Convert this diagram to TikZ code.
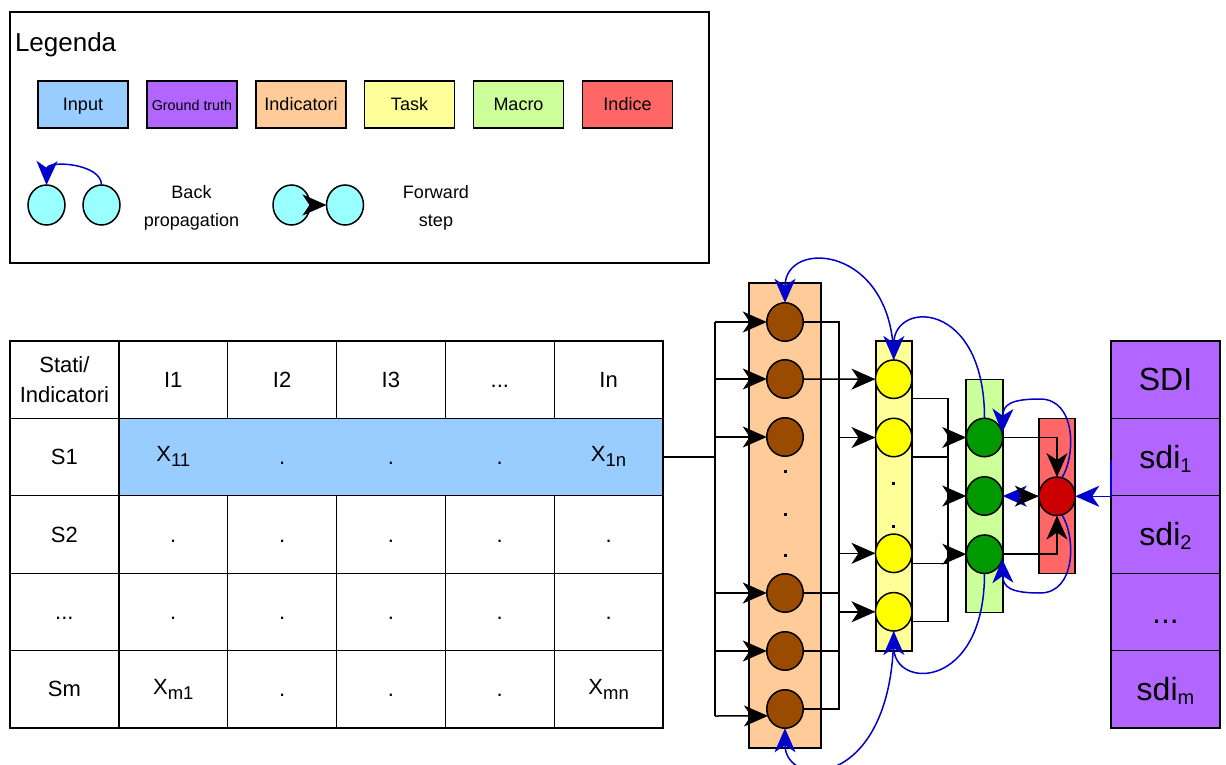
\documentclass[tikz,border=0pt]{standalone}
\usepackage{fontspec}
\setmainfont{Liberation Sans}
\usetikzlibrary{arrows.meta,shapes.geometric}
\definecolor{inputblue}{HTML}{99CCFF}
\definecolor{gtpurple}{HTML}{B266FF}
\definecolor{indorange}{HTML}{FFCC99}
\definecolor{taskyellow}{HTML}{FFFF99}
\definecolor{macrogreen}{HTML}{CCFF99}
\definecolor{indicered}{HTML}{FF6666}
\definecolor{cyanc}{HTML}{99FFFF}
\definecolor{brownc}{HTML}{994C00}
\definecolor{yellowc}{HTML}{FFFF00}
\definecolor{greenc}{HTML}{009900}
\definecolor{redc}{HTML}{CC0000}
\definecolor{bpblue}{HTML}{0000CC}
\newcommand\tsub[1]{\raisebox{-5pt}{\fontsize{18.5}{18.5}\selectfont #1}}
\newcommand\ssub[1]{\raisebox{-4pt}{\fontsize{20}{20}\selectfont #1}}
\tikzset{
  conn/.style={draw=black, line width=1.5pt},
  fwd/.style={conn, -{Stealth[length=24pt,width=21pt,inset=7pt]}},
  bp/.style={draw=bpblue, line width=1.5pt, -{Stealth[length=24pt,width=21pt,inset=7pt,fill=bpblue]}},
  lbox/.style={draw, line width=1.5pt, minimum width=90pt, minimum height=47pt, font=\fontsize{18}{20}\selectfont, text height=16.2pt, text depth=3.6pt},
  lcirc/.style={ellipse, draw, line width=1.5pt, fill=cyanc, minimum width=37pt, minimum height=40pt},
  neuron/.style={ellipse, draw, line width=1.5pt, minimum width=36.5pt, minimum height=38.5pt},
  layerbox/.style={draw, line width=1.5pt},
  cell/.style={draw, line width=1.3pt, minimum width=108.83pt, minimum height=77.4pt, font=\fontsize{22}{30.5}\selectfont, align=center},
  celltext/.style={font=\fontsize{22}{30.5}\selectfont, align=center},
  ph/.style={execute at begin node=\vphantom{I}},
  sdicell/.style={draw, line width=1.3pt, fill=gtpurple, minimum width=109pt, minimum height=77.4pt, font=\fontsize{32}{34}\selectfont, text height=28.8pt, text depth=6.4pt},
  dotbox/.style={fill=black, minimum size=3pt, inner sep=0pt},
  lfont/.style={font=\fontsize{18}{28.5}\selectfont, align=center}
}
\begin{document}
\begin{tikzpicture}[x=1pt,y=-1pt, every node/.append style={inner sep=0pt, outer sep=0pt}]
\useasboundingbox (0,0) rectangle (1226,765);

% ---------------- Legend ----------------
\node[draw, line width=1.3pt, minimum width=699pt, minimum height=251pt] (legend) at (359.5,137.5) {};
\node[anchor=base west, font=\fontsize{26}{28}\selectfont] (legtitle) at (15,52) {Legenda};
\node[lbox, fill=inputblue] (lin) at (83,104.5) {Input};
\node[lbox, fill=gtpurple, font=\fontsize{14.3}{16}\selectfont] (lgt) at (192,104.5) {Ground truth};
\node[lbox, fill=indorange] (lind) at (301,104.5) {Indicatori};
\node[lbox, fill=taskyellow] (ltask) at (409.5,104.5) {Task};
\node[lbox, fill=macrogreen] (lmac) at (518.5,104.5) {Macro};
\node[lbox, fill=indicered] (lidx) at (627.5,104.5) {Indice};

\node[lcirc] (bpa) at (46.5,205) {};
\node[lcirc] (bpb) at (101.5,205) {};
\draw[bp] (bpb.north) .. controls (101.5,163) and (47,160) .. (bpa.north);
\node[lfont] (bptext) at (191.5,207.8) {Back\\propagation};

\node[lcirc] (fwa) at (291.5,205) {};
\node[lcirc] (fwb) at (345,205) {};
\draw[fwd] (fwa.east) -- (fwb.west);
\node[lfont] (fwtext) at (436,207.8) {Forward\\step};

% ---------------- Table ----------------
\node[cell] (h0) at (64.4,379.7) {Stati/\\Indicatori};
\node[cell] (h1) at (173.3,379.7) {I1};
\node[cell] (h2) at (282.1,379.7) {I2};
\node[cell] (h3) at (390.9,379.7) {I3};
\node[cell, ph] (h4) at (499.8,379.7) {...};
\node[cell] (h5) at (608.6,379.7) {In};
\node[cell] (s1) at (64.4,457.1) {S1};
\node[draw, line width=1.3pt, fill=inputblue, minimum width=543.2pt, minimum height=77.4pt] (inrow) at (391.4,457.1) {};
\node[celltext] (x11) at (173.3,456) {X\tsub{11}};
\node[celltext, ph] (x12) at (282.1,457.1) {.};
\node[celltext, ph] (x13) at (390.9,457.1) {.};
\node[celltext, ph] (x14) at (499.8,457.1) {.};
\node[celltext] (x1n) at (608.6,456) {X\tsub{1n}};
\node[cell] (s2) at (64.4,534.5) {S2};
\node[cell, ph] (x21) at (173.3,534.5) {.};
\node[cell, ph] (x22) at (282.1,534.5) {.};
\node[cell, ph] (x23) at (390.9,534.5) {.};
\node[cell, ph] (x24) at (499.8,534.5) {.};
\node[cell, ph] (x25) at (608.6,534.5) {.};
\node[cell, ph] (s3) at (64.4,611.9) {...};
\node[cell, ph] (x31) at (173.3,611.9) {.};
\node[cell, ph] (x32) at (282.1,611.9) {.};
\node[cell, ph] (x33) at (390.9,611.9) {.};
\node[cell, ph] (x34) at (499.8,611.9) {.};
\node[cell, ph] (x35) at (608.6,611.9) {.};
\node[cell] (sm) at (64.4,689.3) {Sm};
\node[cell] (xm1) at (173.3,689.3) {X\tsub{m1}};
\node[cell, ph] (xm2) at (282.1,689.3) {.};
\node[cell, ph] (xm3) at (390.9,689.3) {.};
\node[cell, ph] (xm4) at (499.8,689.3) {.};
\node[cell] (xmn) at (608.6,689.3) {X\tsub{mn}};

% ---------------- SDI column ----------------
\node[sdicell] (sdi0) at (1165.5,379.7) {SDI};
\node[sdicell] (sdi1) at (1165.5,457.1) {sdi\ssub{1}};
\node[sdicell] (sdi2) at (1165.5,534.5) {sdi\ssub{2}};
\node[sdicell] (sdi3) at (1165.5,611.9) {...};
\node[sdicell] (sdi4) at (1165.5,689.3) {sdi\ssub{m}};

% ---------------- Network layers ----------------
\node[layerbox, fill=indorange, minimum width=72pt, minimum height=465pt] (lay1) at (785,515.5) {};
\node[layerbox, fill=taskyellow, minimum width=36.3pt, minimum height=310pt] (lay2) at (893.9,495.9) {};
\node[layerbox, fill=macrogreen, minimum width=36.7pt, minimum height=233pt] (lay3) at (984.5,495.8) {};
\node[layerbox, fill=indicered, minimum width=36pt, minimum height=155pt] (lay4) at (1057,495.8) {};

\node[neuron, fill=brownc] (b1) at (785,322) {};
\node[neuron, fill=brownc] (b2) at (785,379) {};
\node[neuron, fill=brownc] (b3) at (785,437) {};
\node[neuron, fill=brownc] (b4) at (785,593) {};
\node[neuron, fill=brownc] (b5) at (785,651) {};
\node[neuron, fill=brownc] (b6) at (785,709) {};
\node[dotbox] (bd1) at (785,471.7) {};
\node[dotbox] (bd2) at (785,514.6) {};
\node[dotbox] (bd3) at (785,555) {};

\node[neuron, fill=yellowc] (y1) at (893.7,379.2) {};
\node[neuron, fill=yellowc] (y2) at (893.7,437.5) {};
\node[neuron, fill=yellowc] (y3) at (893.7,553.3) {};
\node[neuron, fill=yellowc] (y4) at (893.7,611.8) {};
\node[dotbox] (yd1) at (893.7,483.3) {};
\node[dotbox] (yd2) at (893.7,526) {};

\node[neuron, fill=greenc] (g1) at (984.5,437.5) {};
\node[neuron, fill=greenc] (g2) at (984.5,496) {};
\node[neuron, fill=greenc] (g3) at (984.5,554.2) {};

\node[neuron, fill=redc] (r) at (1057,496.3) {};

% ---------------- forward connectors ----------------
\coordinate (ib) at (715,457.1);
\coordinate (ibt) at (715,322);
\coordinate (ibb) at (715,716);
\draw[conn] (inrow.east) -- (ib);
\draw[conn] (ibt) -- (ibb);
\foreach \n in {b1,b2,b3,b4,b5} { \draw[fwd] (ibt |- \n) -- (\n); }
\draw[fwd] (ibb) -- (b6.202);

\coordinate (hb) at (839,322);
\draw[conn] (b1) -- (b1 -| hb) -- (b6 -| hb) -- (b6);
\draw[conn] (b4) -- (b4 -| hb);
\draw[conn] (b5) -- (b5 -| hb);
\draw[fwd] (b2) -- (y1);
\foreach \n in {y2,y3,y4} { \draw[fwd] (hb |- \n) -- (\n); }

\coordinate (yb1) at (948,398.3);
\coordinate (yb2) at (948,457);
\coordinate (yb3) at (948,563.3);
\coordinate (yb4) at (948,621.7);
\draw[conn] (lay2.east |- yb1) -- (yb1) -- (yb4) -- (lay2.east |- yb4);
\draw[conn] (lay2.east |- yb2) -- (yb2);
\draw[conn] (lay2.east |- yb3) -- (yb3);
\foreach \n in {g1,g2,g3} { \draw[fwd] (yb1 |- \n) -- (\n); }

\draw[fwd] (g1) -- (g1 -| r) -- (r);
\draw[fwd] (g3) -- (g3 -| r) -- (r);

% ---------------- back propagation ----------------
\draw[bp] (r) -- (g2);
\draw[fwd, shorten <=16pt] (g2) -- (r);

\coordinate (sdtop) at (1111,460);
\draw[bp] (sdtop) -- (sdtop |- r) -- (r);

\draw[bp] (r.75) .. controls (1076,455) and (1076,399) .. (1040,399)
          .. controls (1010,399) and (1003,405) .. (g1.15);
\draw[bp] (r.-75) .. controls (1076,537) and (1076,593) .. (1040,593)
          .. controls (1010,593) and (1003,587) .. (g3.-15);
\draw[bp] (g1.north) .. controls (984.5,300) and (894,300) .. (y1.north);
\draw[bp] (y1.north) .. controls (894,245) and (785,238) .. (b1.north);
\draw[bp] (g3.south) .. controls (984.5,690) and (894,690) .. (y4.south);
\draw[bp] (y4.south) .. controls (894,790) and (785,790) .. (b6.south);
\end{tikzpicture}
\end{document}
